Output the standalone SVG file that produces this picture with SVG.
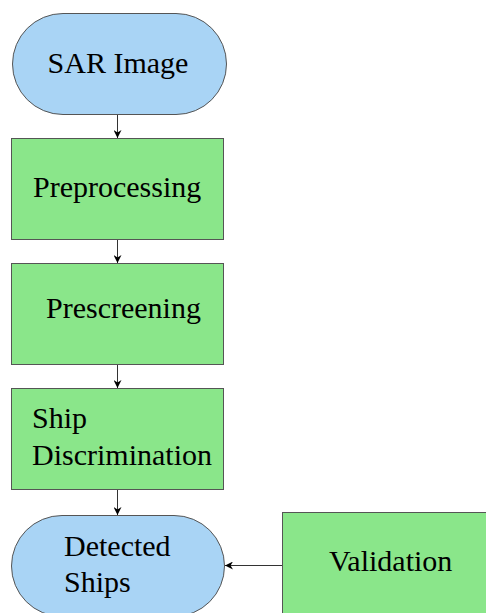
<svg xmlns="http://www.w3.org/2000/svg" width="486" height="613" viewBox="0 0 486 613">
<style>
.term{fill:#a9d4f5;stroke:#555;stroke-width:1}
.proc{fill:#8ae68a;stroke:#555;stroke-width:1}
.lbl{fill:#000}
.conn{stroke:#333;stroke-width:1;fill:none;marker-end:url(#ah)}
</style>
<defs>
<marker id="ah" viewBox="0 0 10 10" refX="10" refY="5" markerWidth="8" markerHeight="8" markerUnits="userSpaceOnUse" orient="auto">
<path d="M0,0 L10,5 L0,10 L3,5 Z" fill="#000"/>
</marker>
</defs>
<g font-family="Liberation Serif, DejaVu Serif, serif" font-size="30">
<g id="sar-image">
<rect class="term" x="12.5" y="13.5" width="214" height="101" rx="50.5" ry="50.5"/>
<text class="lbl" x="118" y="73" text-anchor="middle">SAR Image</text>
</g>
<g id="preprocessing">
<rect class="proc" x="11.5" y="138.5" width="212" height="101"/>
<text class="lbl" x="33" y="197">Preprocessing</text>
</g>
<g id="prescreening">
<rect class="proc" x="11.5" y="263.5" width="212" height="101"/>
<text class="lbl" x="46" y="318">Prescreening</text>
</g>
<g id="ship-discrimination">
<rect class="proc" x="11.5" y="388.5" width="212" height="101"/>
<text class="lbl" x="32" y="428">Ship</text>
<text class="lbl" x="32" y="465">Discrimination</text>
</g>
<g id="detected-ships">
<rect class="term" x="11.5" y="515.5" width="213" height="101" rx="50.5" ry="50.5"/>
<text class="lbl" x="64" y="556">Detected</text>
<text class="lbl" x="64" y="592">Ships</text>
</g>
<g id="validation">
<rect class="proc" x="282.5" y="512.5" width="210" height="110"/>
<text class="lbl" x="329" y="571">Validation</text>
</g>
</g>
<g id="connectors">
<line class="conn" x1="117.5" y1="115" x2="117.5" y2="138"/>
<line class="conn" x1="117.5" y1="240" x2="117.5" y2="263"/>
<line class="conn" x1="117.5" y1="365" x2="117.5" y2="388"/>
<line class="conn" x1="117.5" y1="490" x2="117.5" y2="515"/>
<line class="conn" x1="282" y1="565.5" x2="225" y2="565.5"/>
</g>
</svg>
